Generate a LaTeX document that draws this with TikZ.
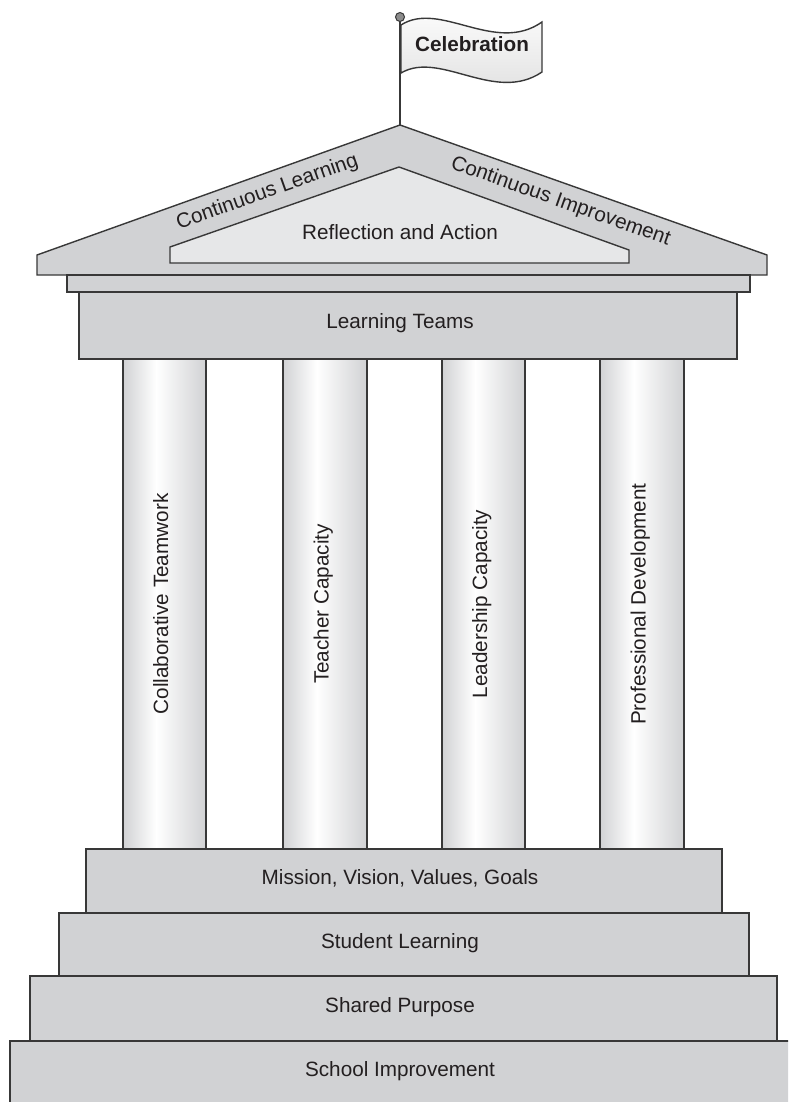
\documentclass[tikz,border=0pt]{standalone}
\usepackage{fontspec}
\setmainfont{Liberation Sans}
\definecolor{stone}{HTML}{D1D2D4}
\definecolor{pale}{HTML}{E6E7E8}
\definecolor{ink}{HTML}{231F20}
\definecolor{edge}{HTML}{383838}
\pgfdeclarehorizontalshading{pillar}{100bp}{color(0bp)=(stone); color(25bp)=(stone); color(45bp)=(white); color(75bp)=(stone); color(100bp)=(stone)}
\tikzset{
  part/.style={draw=edge, line width=1.4pt, fill=stone, line join=miter},
  lbl/.style={font=\fontsize{20.7}{24}\selectfont, text=ink, inner sep=0pt, text height=0.716em, text depth=0pt},
  colbox/.style={draw=edge, line width=1.4pt, shading=pillar},
}
\begin{document}
\begin{tikzpicture}[x=1pt,y=-1pt]
\clip (0,0) rectangle (788,1102);
\fill[white] (0,0) rectangle (788,1102);
% flag pole and ball
\coordinate (poletop) at (400,20);
\coordinate (apex) at (400,125);
\draw[edge, line width=1.4pt] (poletop) -- (apex);
\node[circle, draw=edge, fill=black!45, line width=1pt, minimum size=9pt, inner sep=0pt] (ball) at (400,17) {};
% flag
\draw[draw=edge, line width=1.4pt, top color=white, bottom color=black!13]
  (401,25) .. controls (440,0) and (495,55) .. (542,22)
  -- (542,72) .. controls (495,104) and (440,50) .. (401,73) -- cycle;
\node[lbl, font=\fontsize{20.7}{24}\selectfont\bfseries] (celebration) at (472,48) {Celebration};
% roof
\draw[part] (37,275) -- (37,255) -- (apex) -- (767,255) -- (767,275) -- cycle;
\draw[part, fill=pale] (170,263) -- (170,247) -- (399,167) -- (629,250) -- (629,263) -- cycle;
\node[lbl, rotate=19.6] (cl) at (268,194) {Continuous Learning};
\node[lbl, rotate=-19.6] (ci) at (560,203.5) {Continuous Improvement};
\node[lbl] (ra) at (400,235.5) {Reflection and Action};
% entablature
\draw[part] (67,275) rectangle (750,292);
\draw[part] (79,292) rectangle (737,359);
\node[lbl] (lt) at (400,324.5) {Learning Teams};
% pillars
\draw[colbox] (123,359) rectangle (206,849);
\draw[colbox] (283,359) rectangle (367,849);
\draw[colbox] (442,359) rectangle (525,849);
\draw[colbox] (600,359) rectangle (684,849);
\node[lbl, rotate=90] (c1) at (164.5,604) {Collaborative Teamwork};
\node[lbl, rotate=90] (c2) at (325,604) {Teacher Capacity};
\node[lbl, rotate=90] (c3) at (483.5,604) {Leadership Capacity};
\node[lbl, rotate=90] (c4) at (642,604) {Professional Development};
% steps
\draw[part] (10,1041) rectangle (800,1110);
\draw[part] (30,976) rectangle (777,1041);
\draw[part] (59,913) rectangle (749,976);
\draw[part] (86,849) rectangle (722,913);
\node[lbl] (mv) at (400,880.5) {Mission, Vision, Values, Goals};
\node[lbl] (sl) at (400,944.5) {Student Learning};
\node[lbl] (sp) at (400,1008.5) {Shared Purpose};
\node[lbl] (si) at (400,1072.5) {School Improvement};
\end{tikzpicture}
\end{document}
